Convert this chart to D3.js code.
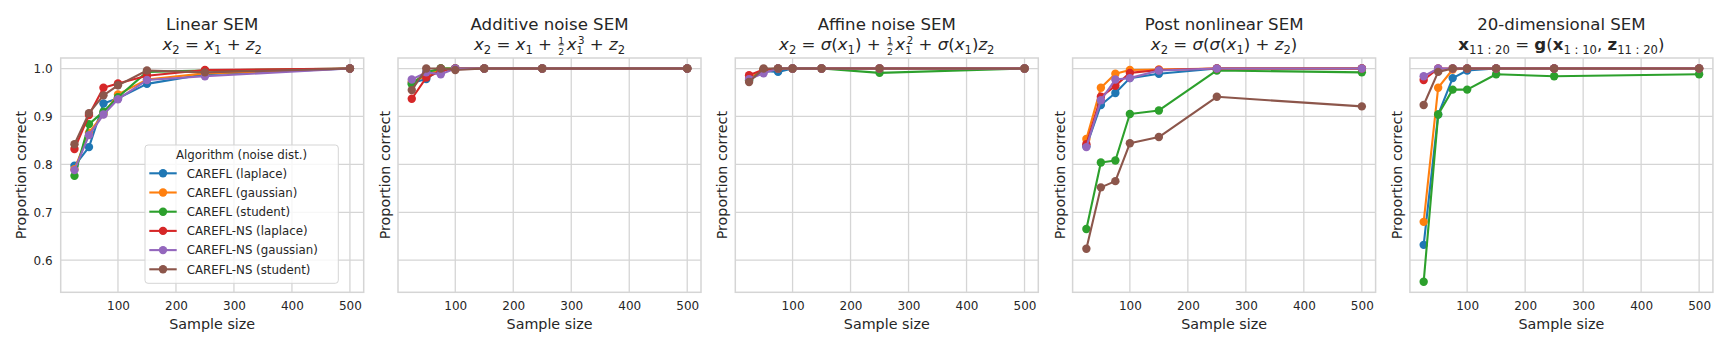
<!DOCTYPE html>
<html>
<head>
<meta charset="utf-8">
<script src="https://cdn.jsdelivr.net/npm/d3@7"></script>
<style>
  body { margin: 0; background: #fff; }
  svg { display: block; font-family: "DejaVu Sans", sans-serif; }
</style>
</head>
<body>
<svg id="chart" width="1727" height="346"></svg>
<script>
const sampleSizes = [25, 50, 75, 100, 150, 250, 500];
const algorithms = [
  "CAREFL (laplace)", "CAREFL (gaussian)", "CAREFL (student)",
  "CAREFL-NS (laplace)", "CAREFL-NS (gaussian)", "CAREFL-NS (student)"];
const xTicks = [100, 200, 300, 400, 500];
const yTicks = [0.6, 0.7, 0.8, 0.9, 1.0];

// one row per algorithm, in the order above
const linearSem = [
  [0.797, 0.836, 0.927, 0.938, 0.968, 0.988, 1.0],
  [0.790, 0.866, 0.905, 0.946, 0.977, 0.990, 1.0],
  [0.776, 0.884, 0.910, 0.940, 0.993, 0.996, 1.0],
  [0.832, 0.903, 0.960, 0.969, 0.985, 0.997, 1.0],
  [0.788, 0.861, 0.904, 0.936, 0.976, 0.984, 1.0],
  [0.842, 0.907, 0.944, 0.965, 0.996, 0.992, 1.0]];
const additiveSem = [
  [0.970, 0.978, 1.0, 1.0, 1.0, 1.0, 1.0],
  [0.972, 0.985, 1.0, 1.0, 1.0, 1.0, 1.0],
  [0.967, 0.992, 1.0, 1.0, 1.0, 1.0, 1.0],
  [0.937, 0.981, 0.995, 1.0, 1.0, 1.0, 1.0],
  [0.977, 0.992, 0.988, 1.0, 1.0, 1.0, 1.0],
  [0.955, 1.0, 1.0, 0.997, 1.0, 1.0, 1.0]];
const affineSem = [
  [0.976, 0.995, 0.993, 1.0, 1.0, 1.0, 1.0],
  [0.980, 0.997, 1.0, 1.0, 1.0, 1.0, 1.0],
  [0.975, 0.998, 1.0, 1.0, 1.0, 0.991, 1.0],
  [0.986, 0.998, 1.0, 1.0, 1.0, 1.0, 1.0],
  [0.978, 0.990, 1.0, 1.0, 1.0, 1.0, 1.0],
  [0.972, 1.0, 1.0, 1.0, 1.0, 1.0, 1.0]];
const postNonlinearSem = [
  [0.838, 0.924, 0.949, 0.980, 0.989, 1.0, 1.0],
  [0.853, 0.960, 0.989, 0.997, 0.998, 1.0, 1.0],
  [0.665, 0.804, 0.808, 0.905, 0.9125, 0.996, 0.992],
  [0.842, 0.941, 0.964, 0.991, 0.997, 1.0, 1.0],
  [0.836, 0.934, 0.977, 0.980, 0.996, 1.0, 1.0],
  [0.624, 0.752, 0.765, 0.844, 0.857, 0.941, 0.921]];
const highDimSem = [
  [0.632, 0.904, 0.980, 0.996, 1.0, 1.0, 1.0],
  [0.680, 0.960, 0.998, 1.0, 1.0, 1.0, 1.0],
  [0.555, 0.904, 0.956, 0.956, 0.988, 0.984, 0.988],
  [0.976, 1.0, 1.0, 1.0, 1.0, 1.0, 1.0],
  [0.984, 1.0, 1.0, 1.0, 1.0, 1.0, 1.0],
  [0.924, 0.993, 1.0, 1.0, 1.0, 1.0, 1.0]];

const panelTitles = ["Linear SEM", "Additive noise SEM", "Affine noise SEM",
  "Post nonlinear SEM", "20-dimensional SEM"];
const panelData = [linearSem, additiveSem, affineSem, postNonlinearSem, highDimSem];

// formula tokens: t = text, it = italic, bf = bold, sub / sup = scripts, frac = [num, den]
const formulas = [
  [{t: "x", it: 1}, {sub: "2"}, {t: " = "}, {t: "x", it: 1}, {sub: "1"}, {t: " + "}, {t: "z", it: 1}, {sub: "2"}],
  [{t: "x", it: 1}, {sub: "2"}, {t: " = "}, {t: "x", it: 1}, {sub: "1"}, {t: " + "}, {frac: ["1", "2"]},
   {t: "x", it: 1}, {sub: "1", sup: "3"}, {t: " + "}, {t: "z", it: 1}, {sub: "2"}],
  [{t: "x", it: 1}, {sub: "2"}, {t: " = "}, {t: "σ", it: 1}, {t: "("}, {t: "x", it: 1}, {sub: "1"}, {t: ")"},
   {t: " + "}, {frac: ["1", "2"]}, {t: "x", it: 1}, {sub: "1", sup: "2"}, {t: " + "},
   {t: "σ", it: 1}, {t: "("}, {t: "x", it: 1}, {sub: "1"}, {t: ")"}, {t: "z", it: 1}, {sub: "2"}],
  [{t: "x", it: 1}, {sub: "2"}, {t: " = "}, {t: "σ", it: 1}, {t: "("}, {t: "σ", it: 1}, {t: "("},
   {t: "x", it: 1}, {sub: "1"}, {t: ")"}, {t: " + "}, {t: "z", it: 1}, {sub: "2"}, {t: ")"}],
  [{t: "x", bf: 1}, {sub: "11 : 20"}, {t: " = "}, {t: "g", bf: 1}, {t: "("}, {t: "x", bf: 1}, {sub: "1 : 10"},
   {t: ", "}, {t: "z", bf: 1}, {sub: "11 : 20"}, {t: ")"}]];

const textColor = "#262626";
const gridColor = "#d5d5d5";
const color = d3.scaleOrdinal().domain(algorithms).range(d3.schemeCategory10);

const panelWidth = 303;
const panelTop = 58;
const panelBottom = 292.3;
const panelLefts = d3.range(5).map(i => 60.7 + i * 337.3);

const svg = d3.select("#chart");

function drawMath(parent, tokens, cx, baseline, size) {
  const g = parent.append("g");
  let x = 0;
  const newText = (fs, opts = {}) => g.append("text")
    .attr("font-size", fs)
    .attr("fill", textColor)
    .attr("font-style", opts.it ? "italic" : "normal")
    .attr("font-weight", opts.bf ? "bold" : "normal")
    .style("white-space", "pre");

  tokens.forEach(tk => {
    if (tk.frac || (tk.sub && tk.sup)) {
      // stacked pair kept in one text element
      const isFrac = !!tk.frac;
      const fs = size * (isFrac ? 0.56 : 0.62);
      const [top, bottom] = isFrac ? tk.frac : [tk.sup, tk.sub];
      const t = newText(fs);
      const a = t.append("tspan").attr("y", baseline - size * (isFrac ? 0.39 : 0.36)).text(top);
      const b = t.append("tspan").attr("y", baseline + size * (isFrac ? 0.29 : 0.22)).text(bottom);
      const wa = a.node().getComputedTextLength();
      const wb = b.node().getComputedTextLength();
      let w;
      if (isFrac) {
        w = Math.max(wa, wb) + 2;
        a.attr("x", x + (w - wa) / 2);
        b.attr("x", x + (w - wb) / 2);
        g.append("line")
          .attr("x1", x + 1).attr("x2", x + w - 1)
          .attr("y1", baseline - size * 0.31).attr("y2", baseline - size * 0.31)
          .attr("stroke", textColor).attr("stroke-width", 0.8);
        w += 1.5;
      } else {
        a.attr("x", x + 1.5);
        b.attr("x", x);
        w = Math.max(wa + 1.5, wb);
      }
      x += w;
    } else if (tk.sub) {
      const t = newText(size * 0.7).attr("x", x).attr("y", baseline + size * 0.22).text(tk.sub);
      x += t.node().getComputedTextLength();
    } else {
      const t = newText(size, tk).attr("x", x).attr("y", baseline).text(tk.t);
      x += t.node().getComputedTextLength();
    }
  });
  g.attr("transform", `translate(${cx - x / 2},0)`);
}

panelData.forEach((rows, p) => {
  const left = panelLefts[p];
  const right = left + panelWidth;

  const x = d3.scaleLinear().domain([1.25, 523.75]).range([left, right]);
  const y = d3.scaleLinear().domain([0.533, 1.022]).range([panelBottom, panelTop]);

  const g = svg.append("g");

  // grid
  g.append("g").selectAll("line").data(xTicks).join("line")
    .attr("x1", d => x(d)).attr("x2", d => x(d))
    .attr("y1", panelTop).attr("y2", panelBottom)
    .attr("stroke", gridColor).attr("stroke-width", 1.3);
  g.append("g").selectAll("line").data(yTicks).join("line")
    .attr("x1", left).attr("x2", right)
    .attr("y1", d => y(d)).attr("y2", d => y(d))
    .attr("stroke", gridColor).attr("stroke-width", 1.3);

  // axes, only tick labels; seaborn whitegrid has no tick marks
  const xAxis = g.append("g")
    .attr("transform", `translate(0,${panelBottom})`)
    .call(d3.axisBottom(x).tickValues(xTicks).tickSize(0).tickPadding(9));
  xAxis.select(".domain").remove();
  xAxis.selectAll("text").attr("font-size", 12).attr("fill", textColor)
    .attr("font-family", "DejaVu Sans");

  if (p === 0) {
    const yAxis = g.append("g")
      .attr("transform", `translate(${left},0)`)
      .call(d3.axisLeft(y).tickValues(yTicks).tickSize(0).tickPadding(8).tickFormat(d3.format(".1f")));
    yAxis.select(".domain").remove();
    yAxis.selectAll("text").attr("font-size", 12).attr("fill", textColor)
      .attr("font-family", "DejaVu Sans");
  }

  // frame
  g.append("rect")
    .attr("x", left).attr("y", panelTop)
    .attr("width", panelWidth).attr("height", panelBottom - panelTop)
    .attr("fill", "none").attr("stroke", gridColor).attr("stroke-width", 1.5);

  // series
  const line = d3.line().x((d, i) => x(sampleSizes[i])).y(d => y(d));
  rows.forEach((vals, s) => {
    const c = color(algorithms[s]);
    g.append("path").datum(vals)
      .attr("d", line)
      .attr("fill", "none").attr("stroke", c).attr("stroke-width", 2.1)
      .attr("stroke-linejoin", "round");
    g.append("g").selectAll("circle").data(vals).join("circle")
      .attr("cx", (d, i) => x(sampleSizes[i]))
      .attr("cy", d => y(d))
      .attr("r", 4.2)
      .attr("fill", c);
  });

  // titles and labels
  const cx = (left + right) / 2;
  g.append("text")
    .attr("x", cx).attr("y", 30)
    .attr("text-anchor", "middle").attr("font-size", 16.6).attr("fill", textColor)
    .text(panelTitles[p]);
  drawMath(g, formulas[p], cx, 50, 16.6);

  g.append("text")
    .attr("x", cx).attr("y", 328.5)
    .attr("text-anchor", "middle").attr("font-size", 14.3).attr("fill", textColor)
    .text("Sample size");

  const labelX = p === 0 ? left - 35 : left - 8;
  g.append("text")
    .attr("transform", `translate(${labelX},${(panelTop + panelBottom) / 2}) rotate(-90)`)
    .attr("text-anchor", "middle").attr("font-size", 14.3).attr("fill", textColor)
    .text("Proportion correct");

  // legend in first panel
  if (p === 0) {
    const lg = g.append("g");
    lg.append("rect")
      .attr("x", 145).attr("y", 145).attr("width", 193.3).attr("height", 138.3)
      .attr("rx", 3)
      .attr("fill", "#fff").attr("fill-opacity", 0.8)
      .attr("stroke", gridColor).attr("stroke-width", 1);
    lg.append("text")
      .attr("x", 241.6).attr("y", 159.3)
      .attr("text-anchor", "middle").attr("font-size", 11.8).attr("fill", textColor)
      .text("Algorithm (noise dist.)");
    const item = lg.selectAll(".item").data(algorithms).join("g")
      .attr("class", "item")
      .attr("transform", (d, i) => `translate(0,${173.3 + i * 19.2})`);
    item.append("line")
      .attr("x1", 149.3).attr("x2", 176.7)
      .attr("stroke", d => color(d)).attr("stroke-width", 2.1);
    item.append("circle")
      .attr("cx", 163).attr("r", 4.2).attr("fill", d => color(d));
    item.append("text")
      .attr("x", 186.7).attr("y", 4.2)
      .attr("font-size", 11.8).attr("fill", textColor)
      .text(d => d);
  }
});
</script>
</body>
</html>
